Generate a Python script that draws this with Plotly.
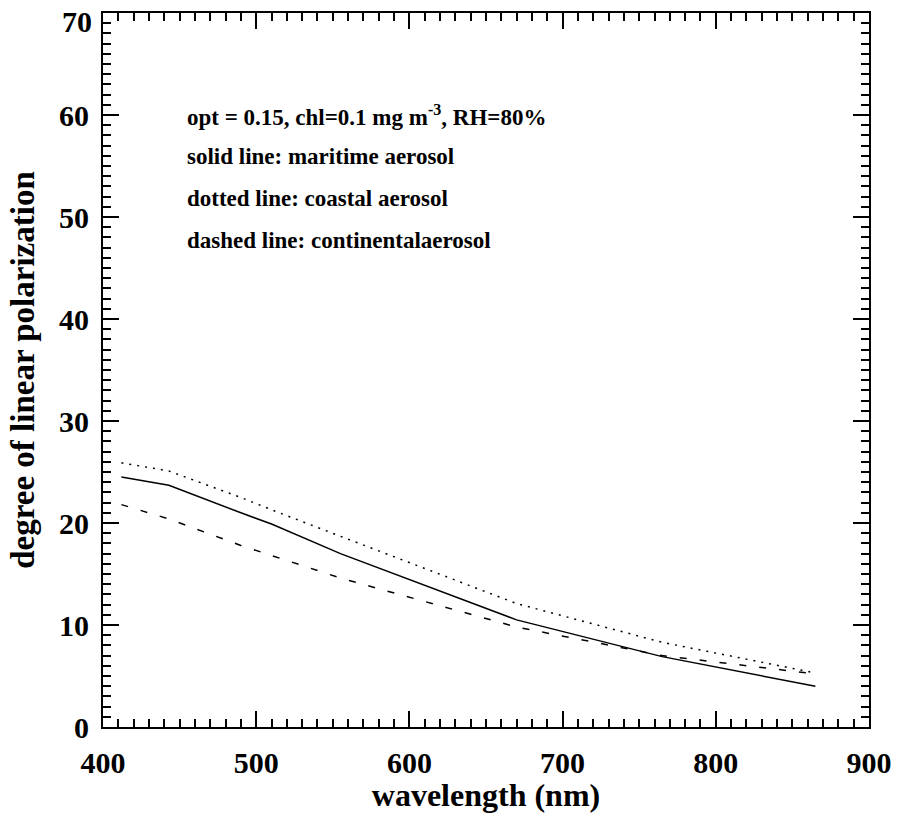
import plotly.graph_objects as go

wavelength = [412, 443, 490, 510, 555, 670, 765, 865]
maritime = [24.5, 23.7, 21.0, 19.9, 17.0, 10.5, 6.9, 4.0]
coastal = [25.9, 25.1, 22.5, 21.3, 18.7, 12.1, 8.3, 5.3]
continental = [21.8, 20.4, 17.8, 16.8, 14.6, 9.8, 7.0, 5.2]

x_ticks = [400, 500, 600, 700, 800, 900]
y_ticks = [0, 10, 20, 30, 40, 50, 60, 70]
# the top label (70) is shifted down inside the figure like in the original
y_ticktext = ["<b>%d</b>" % v for v in y_ticks[:-1]] + [""]
top_label = "<b>%d</b>" % y_ticks[-1]

notes = [
    "opt = 0.15, chl=0.1 mg m<sup>-3</sup>, RH=80%",
    "solid line: maritime aerosol",
    "dotted line: coastal aerosol",
    "dashed line: continentalaerosol",
]
note_y = [60.0, 55.9, 51.8, 47.7]

FONT = "Liberation Serif"

fig = go.Figure()
fig.add_trace(go.Scatter(x=wavelength, y=maritime, mode="lines",
                         line=dict(color="black", width=1.5), name="maritime"))
fig.add_trace(go.Scatter(x=wavelength, y=coastal, mode="lines",
                         line=dict(color="black", width=1.5, dash="2px,6px"), name="coastal"))
fig.add_trace(go.Scatter(x=wavelength, y=continental, mode="lines",
                         line=dict(color="black", width=1.5, dash="7px,13px"), name="continental"))

for t, yv in zip(notes, note_y):
    fig.add_annotation(x=453.5, y=yv, xref="x", yref="y", text="<b>%s</b>" % t,
                       showarrow=False, xanchor="left", yanchor="middle",
                       font=dict(family=FONT, size=23, color="black"))

fig.add_annotation(x=0, y=1, xref="paper", yref="paper", text=top_label,
                   showarrow=False, xanchor="right", yanchor="middle",
                   xshift=-10, yshift=-8, borderpad=0,
                   font=dict(family=FONT, size=30, color="black"))

axis_common = dict(
    showgrid=False, zeroline=False, showline=True, linecolor="black", linewidth=2,
    ticks="inside", ticklen=16, tickwidth=1.5, tickcolor="black", mirror="ticks",
    tickfont=dict(family=FONT, size=30, color="black"),
)

fig.update_xaxes(range=[400, 900], tickvals=x_ticks, ticktext=["<b>%d</b>" % v for v in x_ticks],
                 minor=dict(dtick=10, ticks="inside", ticklen=8, tickwidth=1.5, tickcolor="black"),
                 title=dict(text="<b>wavelength (nm)</b>", font=dict(family=FONT, size=32, color="black"),
                            standoff=1),
                 ticklabelstandoff=8,
                 **axis_common)
fig.update_yaxes(range=[0, 70], tickvals=y_ticks, ticktext=y_ticktext,
                 minor=dict(dtick=1, ticks="inside", ticklen=8, tickwidth=1.5, tickcolor="black"),
                 title=dict(text="<b>degree of linear polarization</b>", font=dict(family=FONT, size=33, color="black"),
                            standoff=14),
                 ticklabelstandoff=6,
                 **axis_common)

fig.update_layout(
    width=903, height=813,
    margin=dict(l=103, r=26, t=11, b=83),
    paper_bgcolor="white", plot_bgcolor="white",
    showlegend=False,
)

fig.write_html("out.html")
